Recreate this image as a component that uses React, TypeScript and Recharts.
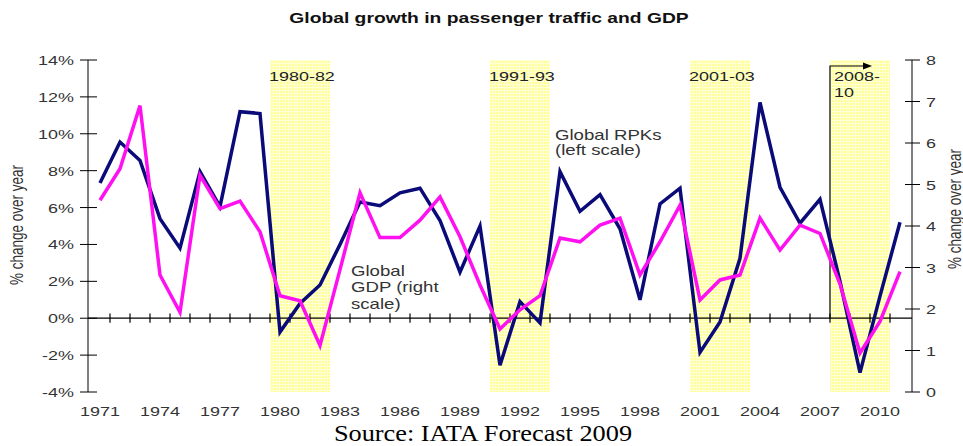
import React from 'react';
import {
  ComposedChart,
  Line,
  XAxis,
  YAxis,
  ReferenceArea,
  ReferenceLine,
} from 'recharts';

const years = [
  1971, 1972, 1973, 1974, 1975, 1976, 1977, 1978, 1979, 1980,
  1981, 1982, 1983, 1984, 1985, 1986, 1987, 1988, 1989, 1990,
  1991, 1992, 1993, 1994, 1995, 1996, 1997, 1998, 1999, 2000,
  2001, 2002, 2003, 2004, 2005, 2006, 2007, 2008, 2009, 2010, 2011,
];

// Global RPKs, % change over year (left scale)
const rpkGrowth = [
  7.33, 9.55, 8.55, 5.4, 3.8, 7.95, 6.05, 11.2, 11.1, -0.75,
  0.8, 1.8, 4.0, 6.3, 6.1, 6.8, 7.05, 5.3, 2.5, 5.0,
  -2.55, 0.9, -0.25, 7.95, 5.8, 6.7, 4.85, 1.0, 6.2, 7.05,
  -1.85, -0.2, 3.25, 11.7, 7.1, 5.15, 6.45, 2.0, -2.95, 1.2, 5.2,
];

// Global GDP, % change over year (right scale)
const gdpGrowth = [
  4.62, 5.38, 6.9, 2.82, 1.92, 5.22, 4.42, 4.6, 3.86, 2.32,
  2.2, 1.12, 2.95, 4.8, 3.72, 3.72, 4.14, 4.7, 3.74, 2.58,
  1.52, 1.98, 2.32, 3.71, 3.62, 4.02, 4.19, 2.82, 3.62, 4.5,
  2.22, 2.7, 2.82, 4.19, 3.42, 4.02, 3.82, 2.6, 0.94, 1.7, 2.9,
];

const yearTicks = [1971, 1974, 1977, 1980, 1983, 1986, 1989, 1992, 1995, 1998, 2001, 2004, 2007, 2010];
const leftTicks = [-4, -2, 0, 2, 4, 6, 8, 10, 12, 14];
const rightTicks = [0, 1, 2, 3, 4, 5, 6, 7, 8];

const recessions = [
  { from: 1980, to: 1982, label: ['1980-82'] },
  { from: 1991, to: 1993, label: ['1991-93'] },
  { from: 2001, to: 2003, label: ['2001-03'] },
  { from: 2008, to: 2010, label: ['2008-', '10'], arrow: true },
];

const chartData = years.map((year, i) => ({ year, rpk: rpkGrowth[i], gdp: gdpGrowth[i] }));
const boundaries = years.slice(0, -1).map((y) => y + 0.5);

const LEFT_DOMAIN = [-4, 14];
const SANS = '"Liberation Sans", Arial, sans-serif';
const TEXT = '#333';
const STRETCH = 1.33; // the source image is stretched sideways

function WideText({ x, y, anchor = 'start', size = 14, weight = 'normal', fill = TEXT, rotate = 0, children }: any) {
  const t = `translate(${x},${y}) scale(${STRETCH},1)${rotate ? ` rotate(${rotate})` : ''}`;
  return (
    <text transform={t} textAnchor={anchor} fontSize={size} fontWeight={weight} fill={fill} fontFamily={SANS}>
      {children}
    </text>
  );
}

const LeftTick = ({ x, y, payload }: any) => (
  <g>
    <line x1={x - 8} x2={x + 9} y1={y} y2={y} stroke="#000" />
    <WideText x={x - 14} y={y + 5} anchor="end" size={13.5}>{`${payload.value}%`}</WideText>
  </g>
);

const RightTick = ({ x, y, payload }: any) => (
  <g>
    <line x1={x - 7} x2={x + 8} y1={y} y2={y} stroke="#000" />
    <WideText x={x + 14} y={y + 5} size={13.5}>{payload.value}</WideText>
  </g>
);

const YearTick = ({ x, y, payload }: any) => (
  <WideText x={x} y={y + 24} anchor="middle" size={13.5}>{payload.value}</WideText>
);

function RecessionLabel({ viewBox, lines, arrow }: any) {
  const { x, y, height } = viewBox;
  const zeroY = y + (height * LEFT_DOMAIN[1]) / (LEFT_DOMAIN[1] - LEFT_DOMAIN[0]);
  return (
    <g>
      {arrow && (
        <g>
          <polyline points={`${x},${zeroY} ${x},${y + 6} ${x + 34},${y + 6}`} fill="none" stroke="#000" strokeWidth={1.2} />
          <polygon points={`${x + 42},${y + 6} ${x + 33},${y + 2.5} ${x + 33},${y + 9.5}`} fill="#000" />
        </g>
      )}
      {lines.map((t: string, i: number) => (
        <WideText key={i} x={x + (arrow ? 4 : -1)} y={y + 21 + i * 16} size={13.5} fill="#222">{t}</WideText>
      ))}
    </g>
  );
}

export default function App() {
  return (
    <div style={{ position: 'absolute', left: 0, top: 0, width: 963, height: 446, background: '#fff' }}>
      <svg width={0} height={0} style={{ position: 'absolute' }}>
        <defs>
          <pattern id="yellowGrid" width={3} height={3} patternUnits="userSpaceOnUse">
            <rect width={3} height={3} fill="#ffff96" />
            <rect width={3} height={1} fill="#ffffd8" />
            <rect width={1} height={3} fill="#ffffd8" />
          </pattern>
        </defs>
      </svg>
      <svg width={963} height={446} style={{ position: 'absolute', left: 0, top: 0 }}>
        <WideText x={489} y={23} anchor="middle" size={14.5} weight="bold" fill="#111">
          Global growth in passenger traffic and GDP
        </WideText>
        <WideText x={23} y={225} anchor="middle" size={13.5} rotate={-90}>% change over year</WideText>
        <WideText x={961} y={209} anchor="middle" size={13.5} rotate={-90}>% change over year</WideText>
        <WideText x={555} y={140} size={14}>Global RPKs</WideText>
        <WideText x={555} y={155} size={14}>(left scale)</WideText>
        <WideText x={351} y={276} size={14}>Global</WideText>
        <WideText x={351} y={292} size={14}>GDP (right</WideText>
        <WideText x={351} y={309} size={14}>scale)</WideText>
        <text
          transform="translate(483,441) scale(1.17,1)"
          textAnchor="middle"
          fontSize={22.5}
          fontFamily='"Liberation Serif", "Times New Roman", serif'
          fill="#000"
        >
          Source: IATA Forecast 2009
        </text>
      </svg>
      <div style={{ position: 'absolute', left: 0, top: 0 }}>
        <ComposedChart width={963} height={446} data={chartData} margin={{ top: 60, right: 11, bottom: 24, left: 28 }}>
          <XAxis
            dataKey="year"
            type="number"
            domain={[1970.4, 2011.6]}
            allowDataOverflow
            ticks={yearTicks}
            interval={0}
            axisLine={false}
            tickLine={false}
            tickSize={0}
            tickMargin={0}
            height={30}
            tick={<YearTick />}
          />
          <YAxis
            yAxisId="left"
            orientation="left"
            width={60}
            domain={LEFT_DOMAIN}
            ticks={leftTicks}
            interval={0}
            axisLine={{ stroke: '#000' }}
            tickLine={false}
            tickSize={0}
            tickMargin={0}
            tick={<LeftTick />}
          />
          <YAxis
            yAxisId="right"
            orientation="right"
            width={40}
            domain={[0, 8]}
            ticks={rightTicks}
            interval={0}
            axisLine={{ stroke: '#000' }}
            tickLine={false}
            tickSize={0}
            tickMargin={0}
            tick={<RightTick />}
          />
          {recessions.map((r) => (
            <ReferenceArea
              key={r.from}
              yAxisId="left"
              x1={r.from - 0.5}
              x2={r.to + 0.5}
              y1={LEFT_DOMAIN[0]}
              y2={LEFT_DOMAIN[1]}
              fill="url(#yellowGrid)"
              fillOpacity={1}
              stroke="none"
              label={(props: any) => <RecessionLabel viewBox={props.viewBox} lines={r.label} arrow={r.arrow} />}
            />
          ))}
          <ReferenceLine yAxisId="left" y={0} stroke="#000" strokeWidth={1.2} />
          {boundaries.map((b) => (
            <ReferenceLine
              key={b}
              yAxisId="left"
              segment={[{ x: b, y: -0.25 }, { x: b, y: 0.25 }]}
              stroke="#000"
              strokeWidth={1.2}
            />
          ))}
          <Line
            yAxisId="left"
            type="linear"
            dataKey="rpk"
            stroke="#0a0a78"
            strokeWidth={3.5}
            dot={false}
            isAnimationActive={false}
          />
          <Line
            yAxisId="right"
            type="linear"
            dataKey="gdp"
            stroke="#ff10f0"
            strokeWidth={3.5}
            dot={false}
            isAnimationActive={false}
          />
        </ComposedChart>
      </div>
    </div>
  );
}
